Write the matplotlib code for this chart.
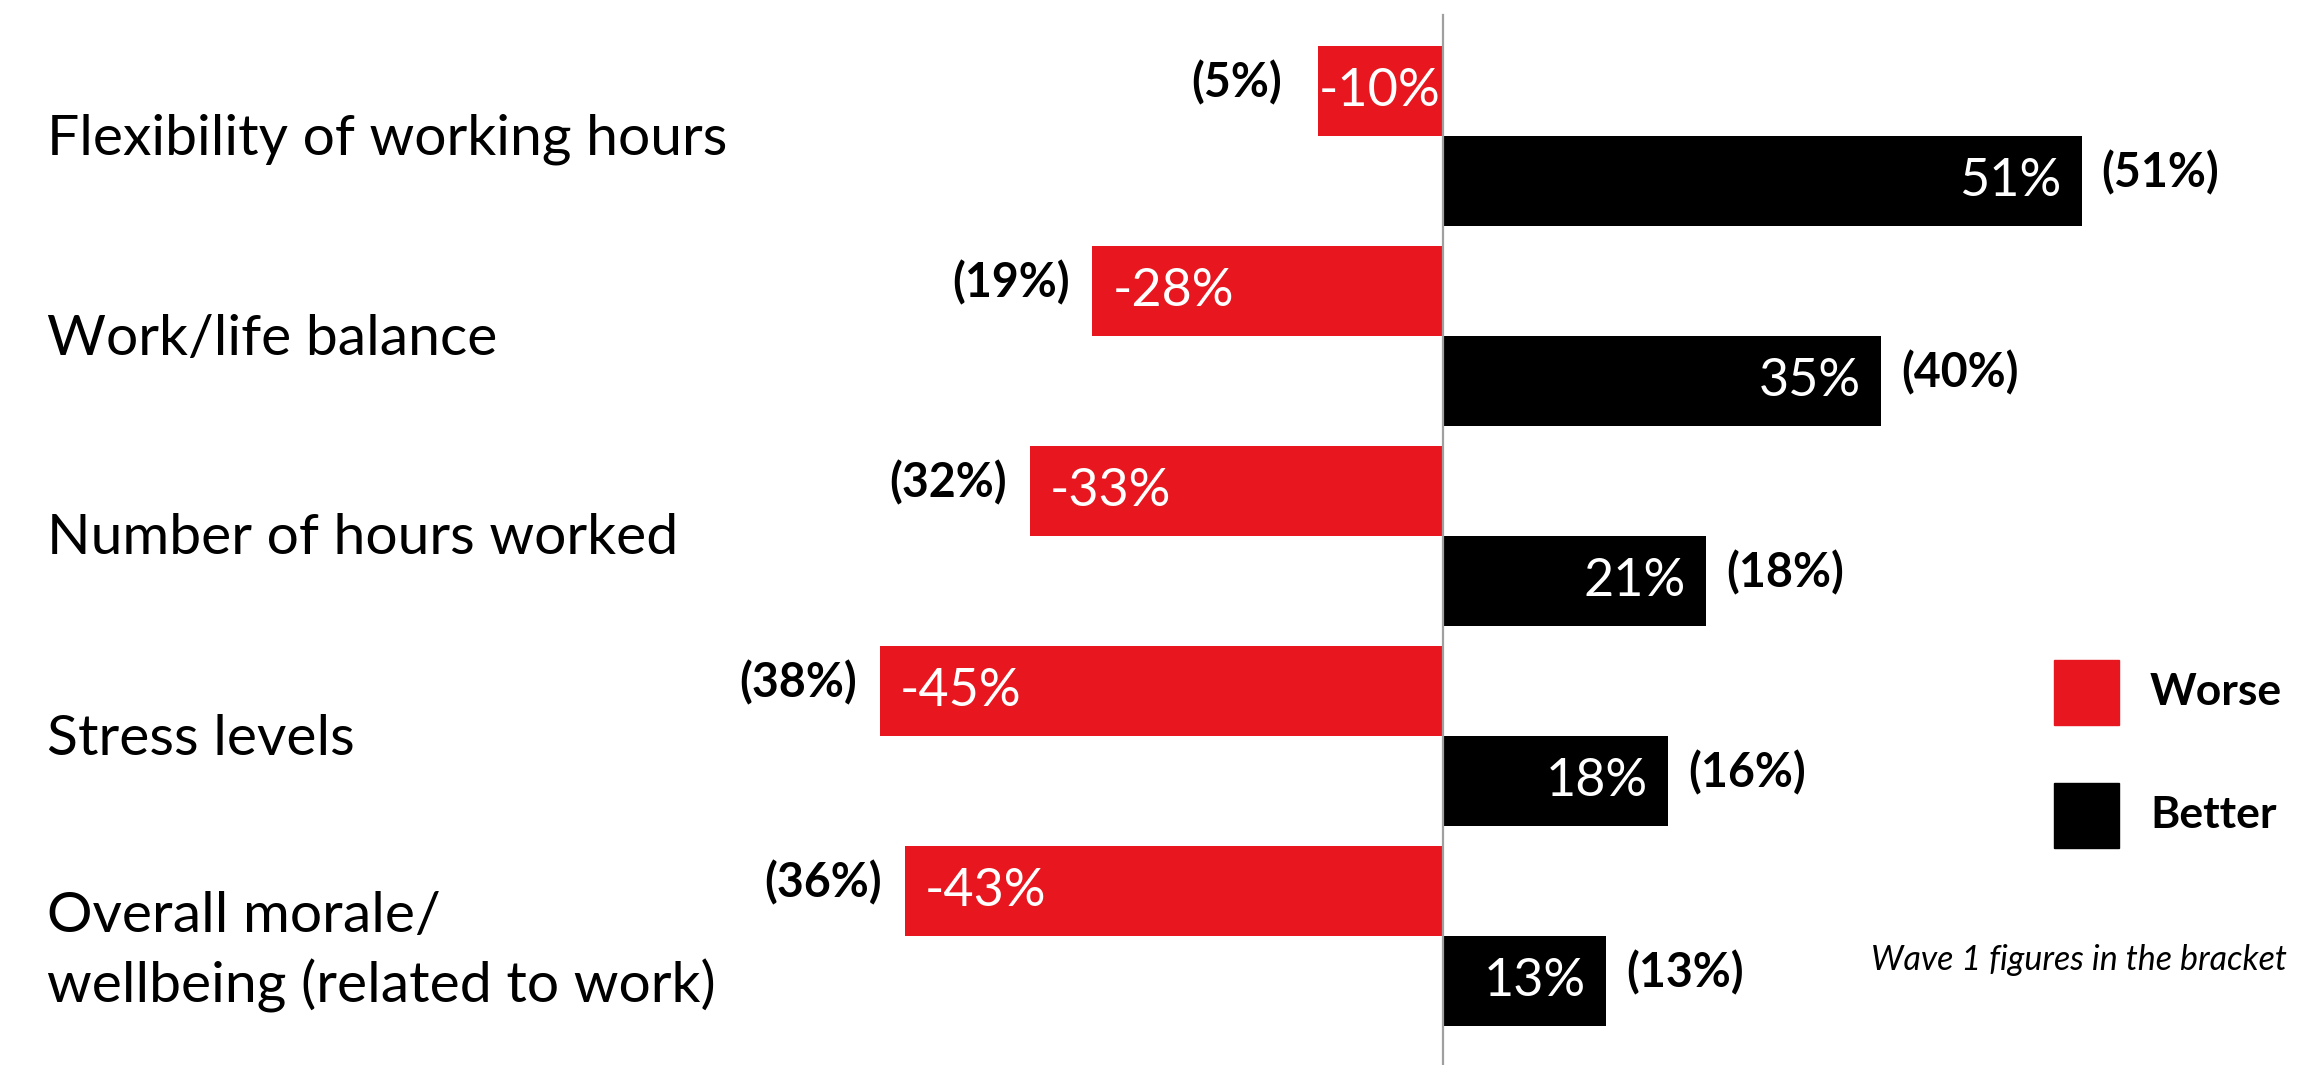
import matplotlib
matplotlib.use('Agg')
import matplotlib.pyplot as plt
from matplotlib.patches import Rectangle

plt.rcParams['font.family'] = ['Lato', 'DejaVu Sans']

categories = ['Flexibility of working hours', 'Work/life balance',
              'Number of hours worked', 'Stress levels',
              'Overall morale/\nwellbeing (related to work)']
worse = [-10, -28, -33, -45, -43]
better = [51, 35, 21, 18, 13]
worse_wave1 = ['(5%)', '(19%)', '(32%)', '(38%)', '(36%)']
better_wave1 = ['(51%)', '(40%)', '(18%)', '(16%)', '(13%)']

RED = '#e8171f'
BLACK = '#000000'

W, H = 2321, 1065
fig = plt.figure(figsize=(W / 100, H / 100), dpi=100)
ax = fig.add_axes([0, 0, 1, 1])

# one x unit = 1 percentage point, zero line sits at x pixel 1443
ppx = 12.52
x0 = 1443
ax.set_xlim(-x0 / ppx, (W - x0) / ppx)
# one y unit = one category group (200 px)
ax.set_ylim((H - 136) / 200, -136 / 200)
ax.axis('off')


def px(x, y):
    return x / W, 1 - y / H


renderer = fig.canvas.get_renderer()
off = 0.225
bh = 0.45
for i in range(len(categories)):
    yr = i - off
    yb = i + off
    ax.barh(yr, worse[i], height=bh, color=RED)
    ax.barh(yb, better[i], height=bh, color=BLACK)
    t = ax.text(worse[i] + 1.6, yr, f'{worse[i]}%', color='white', fontsize=37.5,
                ha='left', va='center')
    # keep the label inside short bars
    tw = t.get_window_extent(renderer).width / ppx
    if worse[i] + 1.6 + tw > -0.2:
        t.set_x(-0.2 - tw)
    ax.text(better[i] - 1.6, yb, f'{better[i]}%', color='white', fontsize=37.5,
            ha='right', va='center')
    ax.text(worse[i] - 6.5, yr - 0.04, worse_wave1[i], color='black', fontsize=33.5,
            fontweight='bold', ha='center', va='center')
    ax.text(better[i] + 1.6, yb - 0.04, better_wave1[i], color='black', fontsize=33.5,
            fontweight='bold', ha='left', va='center')
    tx, _ = px(47, 0)
    ax.text(tx, i + 0.015 if i != 4 else i + 0.08, categories[i],
            transform=ax.get_yaxis_transform(),
            fontsize=41, ha='left', va='center', linespacing=1.37)

# zero line
ax.plot([0, 0], [(15 - 136) / 200, (H - 136) / 200], color='#a0a0a0', lw=1.6)

# legend
for (lbl, col, top) in [('Worse', RED, 660), ('Better', BLACK, 783)]:
    lx, ly = px(2054, top + 65)
    ax.add_patch(Rectangle((lx, ly), 65 / W, 65 / H, color=col, transform=ax.transAxes))
    tx, ty = px(2150, top + 32)
    ax.text(tx, ty, lbl, transform=ax.transAxes, fontsize=32, fontweight='bold',
            ha='left', va='center')

fx, fy = px(2287, 960)
ax.text(fx, fy, 'Wave 1 figures in the bracket', transform=ax.transAxes,
        fontsize=24.5, style='italic', ha='right', va='center')

fig.savefig('out.png', dpi=100, facecolor='white')
